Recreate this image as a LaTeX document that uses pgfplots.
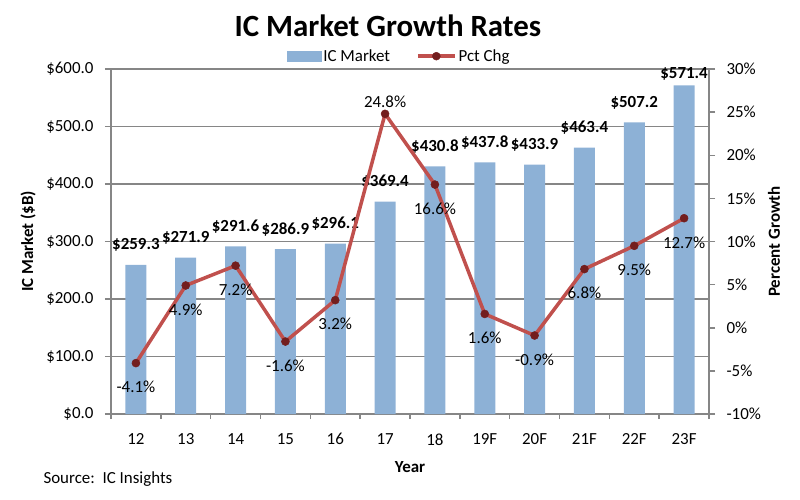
\documentclass[border=0pt]{standalone}
\usepackage{pgfplots}
\pgfplotsset{compat=1.18}
\usepackage{pgfplotstable}
\usepackage{fontspec}
\setmainfont{Carlito}
\definecolor{barblue}{RGB}{141,177,214}
\definecolor{linered}{RGB}{192,80,77}
\definecolor{markred}{RGB}{115,30,30}
\definecolor{gridgray}{RGB}{134,134,134}
\newcommand{\lblfont}{\fontsize{17}{20}\selectfont}

\pgfplotstableread{
x label mkt lsh pct psh
0  12  259.3 13 -4.1 -18
1  13  271.9 13  4.9 -18
2  14  291.6 13  7.2 -18
3  15  286.9 13 -1.6 -18
4  16  296.1 13  3.2 -18
5  17  369.4 13 24.8 18
6  18  430.8 13 16.6 -18
7  19F 437.8 13  1.6 -18
8  20F 433.9 13 -0.9 -18
9  21F 463.4 13  6.8 -18
10 22F 507.2 13  9.5 -18
11 23F 571.4 5  12.7 -18
}\data

\pgfplotsset{
  /pgf/number format/assume math mode=true,
  every tick label/.append style={font=\lblfont},
}

\begin{document}
\begin{tikzpicture}
\useasboundingbox (-111bp,-86bp) rectangle (689bp,414bp);
\begin{axis}[
  at={(0,0)}, anchor=south west,
  scale only axis, width=598bp, height=345bp,
  xmin=-0.5, xmax=11.5, ymin=0, ymax=600,
  axis y line*=left, axis x line*=bottom,
  ytick={0,100,...,600},
  yticklabel={\$\pgfmathprintnumber[fixed,fixed zerofill,precision=1]{\tick}},
  yticklabel style={xshift=-8bp},
  xtick={0,...,11},
  xticklabels from table={\data}{label},
  xticklabel style={yshift=-10bp},
  major x tick style={draw=none},
  minor xtick={-0.5,0.5,...,11.5},
  tick align=outside,
  major tick length=6bp, minor tick length=5bp,
  ymajorgrids,
  grid style={gridgray, line width=1.5bp},
  axis line style={gridgray, line width=1.5bp},
  every tick/.style={gridgray, line width=1.5bp},
  clip=false,
  title={IC Market Growth Rates},
  every axis title/.style={at={(0.463,1.1246)}, anchor=center, font=\bfseries\fontsize{31}{36}\selectfont},
  xlabel={Year},
  every axis x label/.style={at={(0.5,-0.154)}, anchor=center, font=\bfseries\lblfont},
  ylabel={IC Market (\$B)},
  every axis y label/.style={at={(-0.1388,0.5)}, rotate=90, anchor=center, font=\bfseries\lblfont},
]
\addplot[ybar, bar width=21bp, fill=barblue, draw=none,
  visualization depends on={\thisrow{lsh} \as \lsh},
  nodes near coords={\$\pgfmathprintnumber[fixed,fixed zerofill,precision=1]{\pgfplotspointmeta}},
  every node near coord/.append style={anchor=south, inner sep=0pt, yshift=\lsh bp, font=\bfseries\lblfont, text=black},
] table[x=x, y=mkt] {\data};
\end{axis}
\begin{axis}[
  at={(0,0)}, anchor=south west,
  scale only axis, width=598bp, height=345bp,
  xmin=-0.5, xmax=11.5, ymin=-10, ymax=30,
  axis y line*=right, axis x line=none,
  ytick={-10,-5,...,30},
  yticklabel={\pgfmathprintnumber{\tick}\%},
  yticklabel style={xshift=8bp},
  tick align=outside,
  major tick length=6bp,
  axis line style={gridgray, line width=1.5bp},
  every tick/.style={gridgray, line width=1.5bp},
  clip=false,
  ylabel={Percent Growth},
  every axis y label/.style={at={(1.1087,0.5)}, rotate=90, anchor=center, font=\bfseries\lblfont},
  legend columns=2,
  legend style={at={(0.482,1)}, anchor=south, yshift=2bp, draw=none, fill=none, font=\lblfont,
    /tikz/every even column/.append style={column sep=24bp}},
]
\addlegendimage{legend image code/.code={\fill[barblue] (0bp,-5bp) rectangle (34bp,5bp);}}
\addlegendentry{IC Market}
\addlegendimage{legend image code/.code={\draw[linered, line width=3.5bp] (0bp,0bp) -- (37bp,0bp); \fill[markred] (18.5bp,0bp) circle (4bp);}}
\addlegendentry{Pct Chg}
\addplot[forget plot, linered, line width=3.5bp, mark=*, mark size=4bp,
  mark options={solid, line width=0.5bp, fill=markred, draw=markred},
  visualization depends on={\thisrow{psh} \as \psh},
  nodes near coords={\pgfmathprintnumber[fixed,fixed zerofill,precision=1]{\pgfplotspointmeta}\%},
  every node near coord/.append style={anchor=north, inner sep=0pt, yshift=\psh bp, font=\lblfont, text=black},
] table[x=x, y=pct] {\data};
\end{axis}
\node[anchor=west, font=\lblfont] at (-71bp,-65bp) {Source:\ \ IC Insights};
\end{tikzpicture}
\end{document}
